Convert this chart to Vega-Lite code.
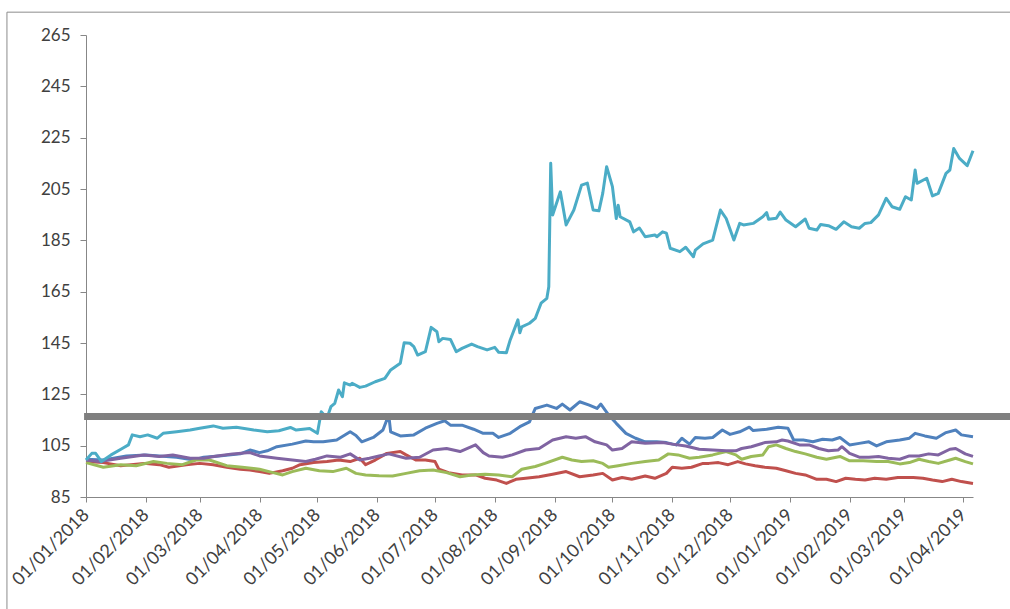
{
"$schema": "https://vega.github.io/schema/vega-lite/v6.json",
"width": 887,
"height": 462,
"autosize": {"type": "none"},
"padding": {"left": 86, "top": 35, "right": 37, "bottom": 112},
"background": "white",
"config": {
  "view": {"stroke": null},
  "axis": {"labelFont": "Lato", "labelFontSize": 17, "labelColor": "#404040", "domainColor": "#878787", "tickColor": "#878787", "grid": false, "domainWidth": 1, "tickWidth": 1}
},
"datasets": {
"levels": [{"level": 116.4, "start": "2017-12-31", "end": "2019-05-20"}],
"frame": [{"top": 273.9, "bottom": 40, "left": "2017-11-21", "end": "2019-05-20"}],
"series": [
{"date":"2018-01-01","series":"blue","value":99.7},
{"date":"2018-01-10","series":"blue","value":99.4},
{"date":"2018-01-22","series":"blue","value":101},
{"date":"2018-02-01","series":"blue","value":101.4},
{"date":"2018-02-08","series":"blue","value":101},
{"date":"2018-02-17","series":"blue","value":100.5},
{"date":"2018-02-26","series":"blue","value":99.4},
{"date":"2018-03-03","series":"blue","value":100.5},
{"date":"2018-03-11","series":"blue","value":101},
{"date":"2018-03-22","series":"blue","value":101.8},
{"date":"2018-03-27","series":"blue","value":103.3},
{"date":"2018-04-01","series":"blue","value":102.3},
{"date":"2018-04-05","series":"blue","value":103},
{"date":"2018-04-10","series":"blue","value":104.6},
{"date":"2018-04-18","series":"blue","value":105.6},
{"date":"2018-04-25","series":"blue","value":106.8},
{"date":"2018-04-29","series":"blue","value":106.5},
{"date":"2018-05-04","series":"blue","value":106.5},
{"date":"2018-05-11","series":"blue","value":107.2},
{"date":"2018-05-18","series":"blue","value":110.4},
{"date":"2018-05-21","series":"blue","value":109},
{"date":"2018-05-24","series":"blue","value":106.5},
{"date":"2018-05-30","series":"blue","value":108.2},
{"date":"2018-06-04","series":"blue","value":111.1},
{"date":"2018-06-07","series":"blue","value":117},
{"date":"2018-06-08","series":"blue","value":110.4},
{"date":"2018-06-13","series":"blue","value":108.8},
{"date":"2018-06-20","series":"blue","value":109.2},
{"date":"2018-06-26","series":"blue","value":111.8},
{"date":"2018-07-02","series":"blue","value":113.7},
{"date":"2018-07-06","series":"blue","value":114.7},
{"date":"2018-07-09","series":"blue","value":113},
{"date":"2018-07-15","series":"blue","value":113},
{"date":"2018-07-21","series":"blue","value":111.4},
{"date":"2018-07-26","series":"blue","value":109.8},
{"date":"2018-07-31","series":"blue","value":109.8},
{"date":"2018-08-03","series":"blue","value":108.2},
{"date":"2018-08-09","series":"blue","value":109.8},
{"date":"2018-08-14","series":"blue","value":112.4},
{"date":"2018-08-19","series":"blue","value":114.3},
{"date":"2018-08-22","series":"blue","value":119.5},
{"date":"2018-08-28","series":"blue","value":120.8},
{"date":"2018-09-02","series":"blue","value":119.5},
{"date":"2018-09-05","series":"blue","value":121.2},
{"date":"2018-09-09","series":"blue","value":118.9},
{"date":"2018-09-14","series":"blue","value":122.1},
{"date":"2018-09-19","series":"blue","value":120.8},
{"date":"2018-09-23","series":"blue","value":119.5},
{"date":"2018-09-25","series":"blue","value":121.2},
{"date":"2018-09-29","series":"blue","value":117},
{"date":"2018-10-03","series":"blue","value":113.7},
{"date":"2018-10-08","series":"blue","value":109.8},
{"date":"2018-10-13","series":"blue","value":107.9},
{"date":"2018-10-18","series":"blue","value":106.5},
{"date":"2018-10-24","series":"blue","value":106.5},
{"date":"2018-10-29","series":"blue","value":106.2},
{"date":"2018-11-03","series":"blue","value":105.3},
{"date":"2018-11-06","series":"blue","value":107.9},
{"date":"2018-11-10","series":"blue","value":105.6},
{"date":"2018-11-13","series":"blue","value":108.2},
{"date":"2018-11-18","series":"blue","value":107.9},
{"date":"2018-11-22","series":"blue","value":108.2},
{"date":"2018-11-27","series":"blue","value":111.1},
{"date":"2018-12-01","series":"blue","value":109.4},
{"date":"2018-12-06","series":"blue","value":110.4},
{"date":"2018-12-11","series":"blue","value":112.2},
{"date":"2018-12-13","series":"blue","value":110.9},
{"date":"2018-12-20","series":"blue","value":111.4},
{"date":"2018-12-26","series":"blue","value":112.2},
{"date":"2018-12-31","series":"blue","value":111.8},
{"date":"2019-01-03","series":"blue","value":107.2},
{"date":"2019-01-08","series":"blue","value":107.2},
{"date":"2019-01-13","series":"blue","value":106.5},
{"date":"2019-01-18","series":"blue","value":107.5},
{"date":"2019-01-23","series":"blue","value":107.2},
{"date":"2019-01-27","series":"blue","value":108.2},
{"date":"2019-02-01","series":"blue","value":105.3},
{"date":"2019-02-06","series":"blue","value":105.9},
{"date":"2019-02-11","series":"blue","value":106.5},
{"date":"2019-02-15","series":"blue","value":104.9},
{"date":"2019-02-20","series":"blue","value":106.5},
{"date":"2019-02-27","series":"blue","value":107.2},
{"date":"2019-03-04","series":"blue","value":107.9},
{"date":"2019-03-07","series":"blue","value":109.8},
{"date":"2019-03-12","series":"blue","value":108.8},
{"date":"2019-03-18","series":"blue","value":107.9},
{"date":"2019-03-23","series":"blue","value":110.1},
{"date":"2019-03-28","series":"blue","value":111.1},
{"date":"2019-03-31","series":"blue","value":109.2},
{"date":"2019-04-06","series":"blue","value":108.5},
{"date":"2018-01-01","series":"red","value":98.8},
{"date":"2018-01-10","series":"red","value":98.4},
{"date":"2018-01-19","series":"red","value":97.2},
{"date":"2018-01-31","series":"red","value":98.1},
{"date":"2018-02-08","series":"red","value":97.6},
{"date":"2018-02-13","series":"red","value":96.6},
{"date":"2018-02-22","series":"red","value":97.6},
{"date":"2018-03-01","series":"red","value":98.1},
{"date":"2018-03-08","series":"red","value":97.6},
{"date":"2018-03-15","series":"red","value":96.6},
{"date":"2018-03-22","series":"red","value":95.8},
{"date":"2018-03-27","series":"red","value":95.5},
{"date":"2018-04-01","series":"red","value":94.9},
{"date":"2018-04-06","series":"red","value":94.2},
{"date":"2018-04-13","series":"red","value":95.2},
{"date":"2018-04-18","series":"red","value":96.2},
{"date":"2018-04-22","series":"red","value":97.6},
{"date":"2018-04-29","series":"red","value":98.4},
{"date":"2018-05-06","series":"red","value":98.8},
{"date":"2018-05-12","series":"red","value":99.4},
{"date":"2018-05-18","series":"red","value":98.8},
{"date":"2018-05-23","series":"red","value":100.1},
{"date":"2018-05-26","series":"red","value":97.6},
{"date":"2018-05-31","series":"red","value":99.4},
{"date":"2018-06-06","series":"red","value":102},
{"date":"2018-06-13","series":"red","value":102.7},
{"date":"2018-06-16","series":"red","value":101.4},
{"date":"2018-06-21","series":"red","value":99.4},
{"date":"2018-06-26","series":"red","value":99.4},
{"date":"2018-07-01","series":"red","value":98.8},
{"date":"2018-07-03","series":"red","value":95.8},
{"date":"2018-07-08","series":"red","value":94.5},
{"date":"2018-07-15","series":"red","value":93.6},
{"date":"2018-07-22","series":"red","value":93.6},
{"date":"2018-07-27","series":"red","value":92.3},
{"date":"2018-08-02","series":"red","value":91.6},
{"date":"2018-08-07","series":"red","value":90.3},
{"date":"2018-08-12","series":"red","value":91.9},
{"date":"2018-08-17","series":"red","value":92.3},
{"date":"2018-08-24","series":"red","value":92.9},
{"date":"2018-08-31","series":"red","value":93.9},
{"date":"2018-09-07","series":"red","value":94.9},
{"date":"2018-09-14","series":"red","value":92.9},
{"date":"2018-09-21","series":"red","value":93.6},
{"date":"2018-09-26","series":"red","value":94.2},
{"date":"2018-10-01","series":"red","value":91.6},
{"date":"2018-10-06","series":"red","value":92.6},
{"date":"2018-10-11","series":"red","value":91.9},
{"date":"2018-10-18","series":"red","value":93.2},
{"date":"2018-10-23","series":"red","value":92.3},
{"date":"2018-10-29","series":"red","value":94.2},
{"date":"2018-11-01","series":"red","value":96.6},
{"date":"2018-11-06","series":"red","value":96.2},
{"date":"2018-11-11","series":"red","value":96.6},
{"date":"2018-11-17","series":"red","value":98.1},
{"date":"2018-11-20","series":"red","value":98.1},
{"date":"2018-11-25","series":"red","value":98.4},
{"date":"2018-11-30","series":"red","value":97.6},
{"date":"2018-12-05","series":"red","value":98.8},
{"date":"2018-12-09","series":"red","value":97.9},
{"date":"2018-12-14","series":"red","value":97.2},
{"date":"2018-12-19","series":"red","value":96.6},
{"date":"2018-12-25","series":"red","value":96.2},
{"date":"2018-12-30","series":"red","value":95.2},
{"date":"2019-01-04","series":"red","value":94.2},
{"date":"2019-01-09","series":"red","value":93.6},
{"date":"2019-01-15","series":"red","value":91.9},
{"date":"2019-01-20","series":"red","value":91.9},
{"date":"2019-01-25","series":"red","value":91},
{"date":"2019-01-30","series":"red","value":92.3},
{"date":"2019-02-04","series":"red","value":91.9},
{"date":"2019-02-09","series":"red","value":91.6},
{"date":"2019-02-14","series":"red","value":92.3},
{"date":"2019-02-20","series":"red","value":91.9},
{"date":"2019-02-26","series":"red","value":92.6},
{"date":"2019-03-06","series":"red","value":92.6},
{"date":"2019-03-11","series":"red","value":92.3},
{"date":"2019-03-16","series":"red","value":91.6},
{"date":"2019-03-21","series":"red","value":91},
{"date":"2019-03-26","series":"red","value":91.9},
{"date":"2019-03-31","series":"red","value":91},
{"date":"2019-04-06","series":"red","value":90.3},
{"date":"2018-01-01","series":"green","value":98.4},
{"date":"2018-01-10","series":"green","value":96.6},
{"date":"2018-01-19","series":"green","value":97.6},
{"date":"2018-01-27","series":"green","value":97.2},
{"date":"2018-02-05","series":"green","value":98.8},
{"date":"2018-02-12","series":"green","value":98.1},
{"date":"2018-02-20","series":"green","value":97.6},
{"date":"2018-02-27","series":"green","value":99.4},
{"date":"2018-03-06","series":"green","value":99.4},
{"date":"2018-03-15","series":"green","value":97.2},
{"date":"2018-03-23","series":"green","value":96.6},
{"date":"2018-04-01","series":"green","value":95.8},
{"date":"2018-04-08","series":"green","value":94.5},
{"date":"2018-04-13","series":"green","value":93.6},
{"date":"2018-04-18","series":"green","value":94.9},
{"date":"2018-04-25","series":"green","value":96.2},
{"date":"2018-05-02","series":"green","value":95.2},
{"date":"2018-05-09","series":"green","value":94.9},
{"date":"2018-05-16","series":"green","value":96.2},
{"date":"2018-05-21","series":"green","value":94.2},
{"date":"2018-05-26","series":"green","value":93.6},
{"date":"2018-06-02","series":"green","value":93.3},
{"date":"2018-06-09","series":"green","value":93.2},
{"date":"2018-06-16","series":"green","value":94.2},
{"date":"2018-06-23","series":"green","value":95.2},
{"date":"2018-06-30","series":"green","value":95.5},
{"date":"2018-07-07","series":"green","value":94.5},
{"date":"2018-07-14","series":"green","value":92.9},
{"date":"2018-07-20","series":"green","value":93.6},
{"date":"2018-07-27","series":"green","value":93.9},
{"date":"2018-08-03","series":"green","value":93.6},
{"date":"2018-08-10","series":"green","value":92.9},
{"date":"2018-08-15","series":"green","value":95.8},
{"date":"2018-08-22","series":"green","value":96.9},
{"date":"2018-08-27","series":"green","value":98.1},
{"date":"2018-09-05","series":"green","value":100.5},
{"date":"2018-09-10","series":"green","value":99.4},
{"date":"2018-09-15","series":"green","value":98.8},
{"date":"2018-09-21","series":"green","value":99.1},
{"date":"2018-09-26","series":"green","value":98.1},
{"date":"2018-09-29","series":"green","value":96.6},
{"date":"2018-10-04","series":"green","value":97.2},
{"date":"2018-10-11","series":"green","value":98.1},
{"date":"2018-10-18","series":"green","value":98.8},
{"date":"2018-10-25","series":"green","value":99.4},
{"date":"2018-10-30","series":"green","value":101.8},
{"date":"2018-11-04","series":"green","value":101.4},
{"date":"2018-11-10","series":"green","value":100.1},
{"date":"2018-11-15","series":"green","value":100.5},
{"date":"2018-11-22","series":"green","value":101.4},
{"date":"2018-11-29","series":"green","value":102.7},
{"date":"2018-12-04","series":"green","value":101.4},
{"date":"2018-12-07","series":"green","value":99.7},
{"date":"2018-12-12","series":"green","value":100.8},
{"date":"2018-12-18","series":"green","value":101.4},
{"date":"2018-12-21","series":"green","value":104.6},
{"date":"2018-12-25","series":"green","value":105.3},
{"date":"2018-12-30","series":"green","value":103.9},
{"date":"2019-01-04","series":"green","value":102.7},
{"date":"2019-01-09","series":"green","value":101.8},
{"date":"2019-01-15","series":"green","value":100.5},
{"date":"2019-01-20","series":"green","value":99.7},
{"date":"2019-01-27","series":"green","value":100.8},
{"date":"2019-02-01","series":"green","value":99.1},
{"date":"2019-02-08","series":"green","value":99.1},
{"date":"2019-02-15","series":"green","value":98.8},
{"date":"2019-02-21","series":"green","value":98.8},
{"date":"2019-02-27","series":"green","value":97.9},
{"date":"2019-03-04","series":"green","value":98.4},
{"date":"2019-03-09","series":"green","value":99.7},
{"date":"2019-03-14","series":"green","value":98.8},
{"date":"2019-03-19","series":"green","value":98.1},
{"date":"2019-03-25","series":"green","value":99.4},
{"date":"2019-03-28","series":"green","value":100.1},
{"date":"2019-04-02","series":"green","value":98.8},
{"date":"2019-04-06","series":"green","value":97.9},
{"date":"2018-01-01","series":"purple","value":99.4},
{"date":"2018-01-08","series":"purple","value":98.8},
{"date":"2018-01-19","series":"purple","value":100.1},
{"date":"2018-01-31","series":"purple","value":101.4},
{"date":"2018-02-08","series":"purple","value":100.8},
{"date":"2018-02-15","series":"purple","value":101.4},
{"date":"2018-02-24","series":"purple","value":100.1},
{"date":"2018-03-03","series":"purple","value":100.1},
{"date":"2018-03-10","series":"purple","value":101},
{"date":"2018-03-18","series":"purple","value":101.8},
{"date":"2018-03-27","series":"purple","value":102.3},
{"date":"2018-04-01","series":"purple","value":101},
{"date":"2018-04-10","series":"purple","value":100.1},
{"date":"2018-04-18","series":"purple","value":99.4},
{"date":"2018-04-25","series":"purple","value":98.8},
{"date":"2018-04-30","series":"purple","value":99.7},
{"date":"2018-05-06","series":"purple","value":101},
{"date":"2018-05-13","series":"purple","value":100.5},
{"date":"2018-05-18","series":"purple","value":101.8},
{"date":"2018-05-23","series":"purple","value":99.4},
{"date":"2018-05-28","series":"purple","value":100.1},
{"date":"2018-06-02","series":"purple","value":101},
{"date":"2018-06-07","series":"purple","value":101.8},
{"date":"2018-06-16","series":"purple","value":100.1},
{"date":"2018-06-23","series":"purple","value":100.5},
{"date":"2018-06-30","series":"purple","value":103.3},
{"date":"2018-07-07","series":"purple","value":103.9},
{"date":"2018-07-14","series":"purple","value":102.7},
{"date":"2018-07-22","series":"purple","value":105.3},
{"date":"2018-07-26","series":"purple","value":102.3},
{"date":"2018-07-29","series":"purple","value":101},
{"date":"2018-08-05","series":"purple","value":100.5},
{"date":"2018-08-10","series":"purple","value":101.4},
{"date":"2018-08-17","series":"purple","value":103.3},
{"date":"2018-08-24","series":"purple","value":103.9},
{"date":"2018-08-31","series":"purple","value":107.2},
{"date":"2018-09-07","series":"purple","value":108.5},
{"date":"2018-09-12","series":"purple","value":107.9},
{"date":"2018-09-17","series":"purple","value":108.5},
{"date":"2018-09-22","series":"purple","value":106.5},
{"date":"2018-09-28","series":"purple","value":105.3},
{"date":"2018-10-01","series":"purple","value":103.3},
{"date":"2018-10-06","series":"purple","value":103.9},
{"date":"2018-10-11","series":"purple","value":106.5},
{"date":"2018-10-18","series":"purple","value":105.9},
{"date":"2018-10-27","series":"purple","value":106.2},
{"date":"2018-11-01","series":"purple","value":105.6},
{"date":"2018-11-08","series":"purple","value":104.9},
{"date":"2018-11-15","series":"purple","value":103.6},
{"date":"2018-11-22","series":"purple","value":103.3},
{"date":"2018-11-29","series":"purple","value":103},
{"date":"2018-12-04","series":"purple","value":103},
{"date":"2018-12-07","series":"purple","value":103.9},
{"date":"2018-12-12","series":"purple","value":104.6},
{"date":"2018-12-19","series":"purple","value":106.2},
{"date":"2018-12-25","series":"purple","value":106.5},
{"date":"2018-12-28","series":"purple","value":107.2},
{"date":"2018-12-31","series":"purple","value":106.8},
{"date":"2019-01-06","series":"purple","value":105.3},
{"date":"2019-01-11","series":"purple","value":105.3},
{"date":"2019-01-16","series":"purple","value":103.9},
{"date":"2019-01-21","series":"purple","value":103},
{"date":"2019-01-26","series":"purple","value":103.3},
{"date":"2019-01-28","series":"purple","value":104.6},
{"date":"2019-02-01","series":"purple","value":102},
{"date":"2019-02-06","series":"purple","value":100.5},
{"date":"2019-02-11","series":"purple","value":100.5},
{"date":"2019-02-16","series":"purple","value":100.8},
{"date":"2019-02-21","series":"purple","value":100.1},
{"date":"2019-02-27","series":"purple","value":99.7},
{"date":"2019-03-04","series":"purple","value":101},
{"date":"2019-03-09","series":"purple","value":101},
{"date":"2019-03-14","series":"purple","value":101.8},
{"date":"2019-03-19","series":"purple","value":101.4},
{"date":"2019-03-25","series":"purple","value":103.6},
{"date":"2019-03-28","series":"purple","value":103.9},
{"date":"2019-04-02","series":"purple","value":101.8},
{"date":"2019-04-06","series":"purple","value":100.8},
{"date":"2018-01-01","series":"teal","value":99.4},
{"date":"2018-01-04","series":"teal","value":102},
{"date":"2018-01-06","series":"teal","value":102},
{"date":"2018-01-09","series":"teal","value":98.8},
{"date":"2018-01-14","series":"teal","value":101.4},
{"date":"2018-01-20","series":"teal","value":104},
{"date":"2018-01-23","series":"teal","value":105.3},
{"date":"2018-01-25","series":"teal","value":109.2},
{"date":"2018-01-29","series":"teal","value":108.5},
{"date":"2018-02-02","series":"teal","value":109.2},
{"date":"2018-02-07","series":"teal","value":107.9},
{"date":"2018-02-10","series":"teal","value":109.8},
{"date":"2018-02-17","series":"teal","value":110.4},
{"date":"2018-02-24","series":"teal","value":111.1},
{"date":"2018-03-01","series":"teal","value":111.8},
{"date":"2018-03-08","series":"teal","value":112.7},
{"date":"2018-03-13","series":"teal","value":111.8},
{"date":"2018-03-20","series":"teal","value":112.2},
{"date":"2018-03-29","series":"teal","value":111.1},
{"date":"2018-04-05","series":"teal","value":110.4},
{"date":"2018-04-11","series":"teal","value":110.8},
{"date":"2018-04-17","series":"teal","value":112.1},
{"date":"2018-04-20","series":"teal","value":111.1},
{"date":"2018-04-27","series":"teal","value":111.7},
{"date":"2018-05-01","series":"teal","value":109.8},
{"date":"2018-05-03","series":"teal","value":118.2},
{"date":"2018-05-06","series":"teal","value":115.8},
{"date":"2018-05-08","series":"teal","value":120.2},
{"date":"2018-05-10","series":"teal","value":121.5},
{"date":"2018-05-12","series":"teal","value":126.7},
{"date":"2018-05-14","series":"teal","value":124.1},
{"date":"2018-05-15","series":"teal","value":129.5},
{"date":"2018-05-18","series":"teal","value":128.6},
{"date":"2018-05-19","series":"teal","value":129.3},
{"date":"2018-05-23","series":"teal","value":127.7},
{"date":"2018-05-26","series":"teal","value":128.2},
{"date":"2018-05-31","series":"teal","value":129.9},
{"date":"2018-06-05","series":"teal","value":131.2},
{"date":"2018-06-08","series":"teal","value":134.5},
{"date":"2018-06-13","series":"teal","value":137.1},
{"date":"2018-06-15","series":"teal","value":145.1},
{"date":"2018-06-18","series":"teal","value":144.9},
{"date":"2018-06-20","series":"teal","value":143.6},
{"date":"2018-06-22","series":"teal","value":140.3},
{"date":"2018-06-26","series":"teal","value":141.6},
{"date":"2018-06-29","series":"teal","value":151.1},
{"date":"2018-07-02","series":"teal","value":149.4},
{"date":"2018-07-03","series":"teal","value":145.5},
{"date":"2018-07-05","series":"teal","value":146.8},
{"date":"2018-07-09","series":"teal","value":146.4},
{"date":"2018-07-12","series":"teal","value":141.6},
{"date":"2018-07-15","series":"teal","value":142.9},
{"date":"2018-07-20","series":"teal","value":144.6},
{"date":"2018-07-23","series":"teal","value":143.6},
{"date":"2018-07-28","series":"teal","value":142.3},
{"date":"2018-08-01","series":"teal","value":143.3},
{"date":"2018-08-03","series":"teal","value":141.4},
{"date":"2018-08-07","series":"teal","value":141.2},
{"date":"2018-08-09","series":"teal","value":146.2},
{"date":"2018-08-13","series":"teal","value":154},
{"date":"2018-08-14","series":"teal","value":149},
{"date":"2018-08-15","series":"teal","value":151.3},
{"date":"2018-08-19","series":"teal","value":152.7},
{"date":"2018-08-22","series":"teal","value":154.6},
{"date":"2018-08-23","series":"teal","value":156.6},
{"date":"2018-08-25","series":"teal","value":160.5},
{"date":"2018-08-28","series":"teal","value":162.4},
{"date":"2018-08-29","series":"teal","value":166.9},
{"date":"2018-08-30","series":"teal","value":215},
{"date":"2018-08-31","series":"teal","value":194.9},
{"date":"2018-09-04","series":"teal","value":203.9},
{"date":"2018-09-07","series":"teal","value":191},
{"date":"2018-09-11","series":"teal","value":196.8},
{"date":"2018-09-15","series":"teal","value":206.5},
{"date":"2018-09-18","series":"teal","value":207.3},
{"date":"2018-09-21","series":"teal","value":196.8},
{"date":"2018-09-24","series":"teal","value":196.5},
{"date":"2018-09-26","series":"teal","value":203.4},
{"date":"2018-09-28","series":"teal","value":213.7},
{"date":"2018-10-01","series":"teal","value":205.9},
{"date":"2018-10-03","series":"teal","value":193.5},
{"date":"2018-10-04","series":"teal","value":198.7},
{"date":"2018-10-05","series":"teal","value":194.2},
{"date":"2018-10-10","series":"teal","value":192.2},
{"date":"2018-10-12","series":"teal","value":188.3},
{"date":"2018-10-15","series":"teal","value":189.8},
{"date":"2018-10-18","series":"teal","value":186.4},
{"date":"2018-10-23","series":"teal","value":187.1},
{"date":"2018-10-24","series":"teal","value":186.4},
{"date":"2018-10-27","series":"teal","value":188.3},
{"date":"2018-10-29","series":"teal","value":187.8},
{"date":"2018-10-31","series":"teal","value":181.9},
{"date":"2018-11-05","series":"teal","value":180.6},
{"date":"2018-11-08","series":"teal","value":182.3},
{"date":"2018-11-12","series":"teal","value":178.6},
{"date":"2018-11-13","series":"teal","value":181.2},
{"date":"2018-11-17","series":"teal","value":183.6},
{"date":"2018-11-22","series":"teal","value":185.1},
{"date":"2018-11-26","series":"teal","value":196.8},
{"date":"2018-11-29","series":"teal","value":193.5},
{"date":"2018-12-03","series":"teal","value":185.1},
{"date":"2018-12-06","series":"teal","value":191.6},
{"date":"2018-12-08","series":"teal","value":191},
{"date":"2018-12-13","series":"teal","value":191.6},
{"date":"2018-12-18","series":"teal","value":194.2},
{"date":"2018-12-20","series":"teal","value":195.8},
{"date":"2018-12-21","series":"teal","value":193.2},
{"date":"2018-12-25","series":"teal","value":193.6},
{"date":"2018-12-27","series":"teal","value":196},
{"date":"2018-12-30","series":"teal","value":192.9},
{"date":"2019-01-04","series":"teal","value":190.3},
{"date":"2019-01-09","series":"teal","value":193.3},
{"date":"2019-01-11","series":"teal","value":189.7},
{"date":"2019-01-15","series":"teal","value":189},
{"date":"2019-01-17","series":"teal","value":191.2},
{"date":"2019-01-21","series":"teal","value":190.7},
{"date":"2019-01-25","series":"teal","value":189.3},
{"date":"2019-01-29","series":"teal","value":192.2},
{"date":"2019-02-02","series":"teal","value":190.3},
{"date":"2019-02-06","series":"teal","value":189.7},
{"date":"2019-02-09","series":"teal","value":191.6},
{"date":"2019-02-12","series":"teal","value":191.9},
{"date":"2019-02-16","series":"teal","value":194.9},
{"date":"2019-02-20","series":"teal","value":201.4},
{"date":"2019-02-23","series":"teal","value":198.1},
{"date":"2019-02-27","series":"teal","value":197.1},
{"date":"2019-03-02","series":"teal","value":202},
{"date":"2019-03-05","series":"teal","value":200.7},
{"date":"2019-03-07","series":"teal","value":212.4},
{"date":"2019-03-08","series":"teal","value":207.2},
{"date":"2019-03-13","series":"teal","value":209.2},
{"date":"2019-03-16","series":"teal","value":202.3},
{"date":"2019-03-19","series":"teal","value":203.3},
{"date":"2019-03-23","series":"teal","value":211.1},
{"date":"2019-03-25","series":"teal","value":212.4},
{"date":"2019-03-27","series":"teal","value":220.8},
{"date":"2019-03-30","series":"teal","value":216.9},
{"date":"2019-04-03","series":"teal","value":214.1},
{"date":"2019-04-06","series":"teal","value":219.9}
]},
"data": {"name": "series"},
"encoding": {
  "x": {"field": "date", "type": "temporal", "title": null,
    "scale": {"type": "utc", "domain": ["2018-01-01", "2019-04-06"]},
    "axis": {"format": "%d/%m/%Y", "tickCount": {"interval": "month", "step": 1}, "labelAngle": -45, "labelAlign": "right", "labelBaseline": "middle", "labelOverlap": false, "labelFlush": false, "labelBound": false, "tickSize": 5, "labelPadding": 10, "labelFontSize": 18}},
  "y": {"field": "value", "type": "quantitative", "title": null,
    "scale": {"domain": [85, 265], "nice": false, "zero": false},
    "axis": {"values": [85, 105, 125, 145, 165, 185, 205, 225, 245, 265], "tickSize": 6, "labelPadding": 10}}
},
"layer": [
  {"transform": [{"filter": "datum.series === 'blue'"}], "mark": {"type": "line", "color": "#4F81BD", "strokeWidth": 3, "strokeJoin": "round"}},
  {"transform": [{"filter": "datum.series === 'red'"}], "mark": {"type": "line", "color": "#C0504D", "strokeWidth": 3, "strokeJoin": "round"}},
  {"transform": [{"filter": "datum.series === 'green'"}], "mark": {"type": "line", "color": "#9BBB59", "strokeWidth": 3, "strokeJoin": "round"}},
  {"transform": [{"filter": "datum.series === 'purple'"}], "mark": {"type": "line", "color": "#8064A2", "strokeWidth": 3, "strokeJoin": "round"}},
  {"transform": [{"filter": "datum.series === 'teal'"}], "mark": {"type": "line", "color": "#4BACC6", "strokeWidth": 3, "strokeJoin": "round"}},
  {"data": {"name": "levels"},
   "mark": {"type": "rule", "color": "#7F7F7F", "strokeWidth": 7, "clip": false},
   "encoding": {
     "y": {"field": "level", "type": "quantitative"},
     "x": {"field": "start", "type": "temporal"},
     "x2": {"field": "end"}
   }},
  {"data": {"name": "frame"},
   "mark": {"type": "rule", "color": "#8C8C8C", "strokeWidth": 1, "clip": false},
   "encoding": {
     "y": {"field": "top", "type": "quantitative"},
     "x": {"field": "left", "type": "temporal"},
     "x2": {"field": "end"}
   }},
  {"data": {"name": "frame"},
   "mark": {"type": "rule", "color": "#8C8C8C", "strokeWidth": 1, "clip": false},
   "encoding": {
     "x": {"field": "left", "type": "temporal"},
     "y": {"field": "top", "type": "quantitative"},
     "y2": {"field": "bottom"}
   }}
]
}
